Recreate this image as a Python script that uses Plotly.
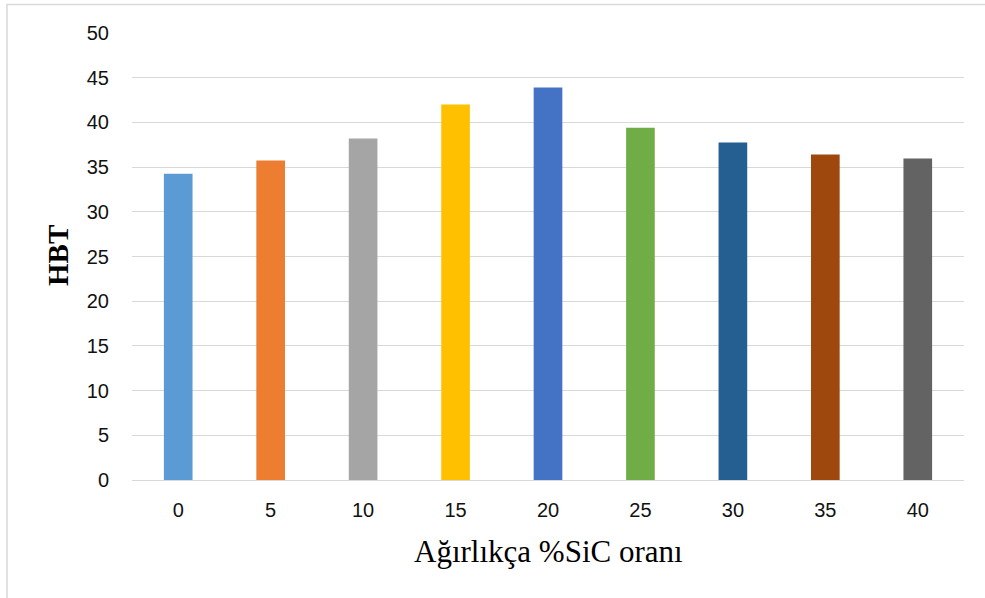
import plotly.graph_objects as go

# SiC content (wt.%) and measured Brinell hardness
sic_labels = ["0", "5", "10", "15", "20", "25", "30", "35", "40"]
hbt_values = [34.25, 35.75, 38.2, 42.0, 43.9, 39.4, 37.75, 36.4, 35.95]
bar_colors = ["#5B9BD5", "#ED7D31", "#A5A5A5", "#FFC000", "#4472C4",
              "#70AD47", "#255E91", "#9E480E", "#636363"]
y_ticks = [0, 5, 10, 15, 20, 25, 30, 35, 40, 45, 50]

W, H = 985, 598
L, R, T, B = 132, 21, 33, 118
pw, ph = W - L - R, H - T - B

def px_x(p):
    return (p - L) / pw

def px_y(p):
    return (H - B - p) / ph

fig = go.Figure(
    go.Bar(
        x=sic_labels,
        y=hbt_values,
        marker=dict(color=bar_colors, line=dict(width=0)),
        hoverinfo="x+y",
    )
)

grid = "#D9D9D9"
tick_font = dict(family="Liberation Sans, Arial, sans-serif", size=20, color="#111111")

fig.update_layout(
    width=W,
    height=H,
    margin=dict(l=L, r=R, t=T, b=B, pad=0),
    paper_bgcolor="white",
    plot_bgcolor="white",
    bargap=0.69,
    showlegend=False,
    xaxis=dict(
        type="category",
        showgrid=False,
        showline=False,
        zeroline=False,
        ticks="",
        tickfont=tick_font,
        ticklabelstandoff=16,
    ),
    yaxis=dict(
        range=[0, 50],
        tickvals=y_ticks,
        showgrid=True,
        gridcolor=grid,
        gridwidth=1.3,
        zeroline=True,
        zerolinecolor=grid,
        zerolinewidth=1.3,
        showline=False,
        ticks="",
        tickfont=tick_font,
        ticklabelstandoff=22,
    ),
    annotations=[
        dict(
            text="Ağırlıkça %SiC oranı",
            xref="paper", yref="paper",
            x=0.5, y=px_y(551),
            xanchor="center", yanchor="middle",
            showarrow=False,
            font=dict(family="Liberation Serif, Times New Roman, serif", size=31, color="#000000"),
        ),
        dict(
            text="<b>HBT</b>",
            xref="paper", yref="paper",
            x=px_x(58), y=px_y(256),
            xanchor="center", yanchor="middle",
            textangle=-90,
            showarrow=False,
            font=dict(family="Liberation Serif, Times New Roman, serif", size=29, color="#000000"),
        ),
    ],
    shapes=[
        dict(
            type="rect",
            xref="paper", yref="paper",
            x0=px_x(7), x1=px_x(990),
            y0=px_y(605), y1=px_y(4.5),
            line=dict(color="#D9D9D9", width=1.5),
            fillcolor="rgba(0,0,0,0)",
            layer="below",
        )
    ],
)

fig.write_html("out.html")
